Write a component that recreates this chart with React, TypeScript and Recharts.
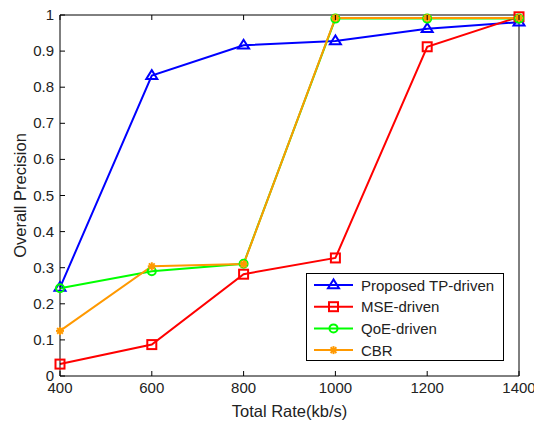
import * as React from "react";
import { LineChart, Line, XAxis, YAxis, Legend } from "recharts";

const rates = [400, 600, 800, 1000, 1200, 1400];
const tpDriven = [0.245, 0.832, 0.916, 0.928, 0.962, 0.98];
const mseDriven = [0.033, 0.087, 0.282, 0.327, 0.912, 0.995];
const qoeDriven = [0.243, 0.29, 0.311, 0.99, 0.99, 0.99];
const cbr = [0.125, 0.304, 0.31, 0.992, 0.992, 0.992];

const xTicks = [400, 600, 800, 1000, 1200, 1400];
const yTicks = [0, 0.1, 0.2, 0.3, 0.4, 0.5, 0.6, 0.7, 0.8, 0.9, 1];

const FONT = "'Liberation Sans', Arial, sans-serif";
const TEXT_COLOR = "#222";

const seriesList = [
  { key: "tp", name: "Proposed TP-driven", color: "#0000ff", marker: "triangle", values: tpDriven },
  { key: "mse", name: "MSE-driven", color: "#ff0000", marker: "square", values: mseDriven },
  { key: "qoe", name: "QoE-driven", color: "#00ff00", marker: "circle", values: qoeDriven },
  { key: "cbr", name: "CBR", color: "#ff9900", marker: "star", values: cbr },
];

const chartData = rates.map((rate, i) => ({
  rate,
  tp: tpDriven[i],
  mse: mseDriven[i],
  qoe: qoeDriven[i],
  cbr: cbr[i],
}));

function Marker({ cx, cy, type, color }: { cx: number; cy: number; type: string; color: string }) {
  if (type === "triangle") {
    const s = 5.5;
    return (
      <polygon
        points={`${cx},${cy - s} ${cx - s},${cy + s * 0.6} ${cx + s},${cy + s * 0.6}`}
        fill="none"
        stroke={color}
        strokeWidth={2}
      />
    );
  }
  if (type === "square") {
    return <rect x={cx - 4.5} y={cy - 4.5} width={9} height={9} fill="none" stroke={color} strokeWidth={2} />;
  }
  if (type === "circle") {
    return <circle cx={cx} cy={cy} r={4} fill="none" stroke={color} strokeWidth={2} />;
  }
  const r = 4;
  const d = r * 0.72;
  return (
    <g stroke={color} strokeWidth={2}>
      <line x1={cx - r} y1={cy} x2={cx + r} y2={cy} />
      <line x1={cx} y1={cy - r} x2={cx} y2={cy + r} />
      <line x1={cx - d} y1={cy - d} x2={cx + d} y2={cy + d} />
      <line x1={cx - d} y1={cy + d} x2={cx + d} y2={cy - d} />
    </g>
  );
}

function makeDot(type: string, color: string) {
  return (props: any) => {
    const { cx, cy, index } = props;
    if (cx == null || cy == null) return <g key={index} />;
    return <Marker key={index} cx={cx} cy={cy} type={type} color={color} />;
  };
}

function formatY(v: number) {
  if (v === 0) return "0";
  if (v === 1) return "1";
  return v.toFixed(1);
}

function LeftTick(props: any) {
  const { x, y, payload } = props;
  return (
    <g>
      <line x1={x} x2={x + 5} y1={y} y2={y} stroke="#000" />
      <text x={x - 6} y={y + 5} textAnchor="end" fontSize={15} fontFamily={FONT} fill={TEXT_COLOR}>
        {formatY(payload.value)}
      </text>
    </g>
  );
}

function BottomTick(props: any) {
  const { x, y, payload } = props;
  return (
    <g>
      <line x1={x} x2={x} y1={y} y2={y - 5} stroke="#000" />
      <text x={x} y={y + 17} textAnchor="middle" fontSize={15} fontFamily={FONT} fill={TEXT_COLOR}>
        {payload.value}
      </text>
    </g>
  );
}

function RightTick(props: any) {
  const { x, y } = props;
  return <line x1={x} x2={x - 5} y1={y} y2={y} stroke="#000" />;
}

function TopTick(props: any) {
  const { x, y } = props;
  return <line x1={x} x2={x} y1={y} y2={y + 5} stroke="#000" />;
}

function LegendBox() {
  const w = 198;
  const h = 88;
  const rowGap = 21.7;
  return (
    <svg width={w} height={h} style={{ display: "block" }}>
      <rect x={0.5} y={0.5} width={w - 1} height={h - 1} fill="#fff" stroke="#000" />
      {seriesList.map((s, i) => {
        const cy = 12 + i * rowGap;
        return (
          <g key={s.key}>
            <line x1={8} x2={47} y1={cy} y2={cy} stroke={s.color} strokeWidth={2} />
            <Marker cx={27.5} cy={cy} type={s.marker} color={s.color} />
            <text x={55} y={cy + 5.5} fontSize={15} fontFamily={FONT} fill={TEXT_COLOR}>
              {s.name}
            </text>
          </g>
        );
      })}
    </svg>
  );
}

export default function App() {
  return (
    <div style={{ position: "absolute", left: 0, top: 0, width: 534, height: 421, background: "#fff" }}>
      <LineChart width={534} height={421} data={chartData} margin={{ top: 0, right: 0, left: 0, bottom: 0 }}>
        <XAxis
          dataKey="rate"
          type="number"
          domain={[400, 1400]}
          ticks={xTicks}
          interval={0}
          height={45}
          tickSize={0}
          tickMargin={0}
          tickLine={false}
          axisLine={{ stroke: "#000" }}
          tick={<BottomTick />}
          label={{
            value: "Total Rate(kb/s)",
            position: "insideBottom",
            offset: 4,
            style: { fontSize: 16.5, fontFamily: FONT, fill: TEXT_COLOR },
          }}
        />
        <XAxis
          xAxisId="top"
          orientation="top"
          dataKey="rate"
          type="number"
          domain={[400, 1400]}
          ticks={xTicks}
          interval={0}
          height={15}
          tickSize={0}
          tickMargin={0}
          tickLine={false}
          axisLine={{ stroke: "#000" }}
          tick={<TopTick />}
        />
        <YAxis
          type="number"
          domain={[0, 1]}
          ticks={yTicks}
          interval={0}
          width={60}
          tickSize={0}
          tickMargin={0}
          tickLine={false}
          axisLine={{ stroke: "#000" }}
          tick={<LeftTick />}
          label={{
            value: "Overall Precision",
            angle: -90,
            position: "insideLeft",
            offset: 20,
            style: { fontSize: 16.5, fontFamily: FONT, fill: TEXT_COLOR, textAnchor: "middle" },
          }}
        />
        <YAxis
          yAxisId="right"
          orientation="right"
          type="number"
          domain={[0, 1]}
          ticks={yTicks}
          interval={0}
          width={15}
          tickSize={0}
          tickMargin={0}
          tickLine={false}
          axisLine={{ stroke: "#000" }}
          tick={<RightTick />}
        />
        {seriesList.map((s) => (
          <Line
            key={s.key}
            dataKey={s.key}
            name={s.name}
            stroke={s.color}
            strokeWidth={2}
            dot={makeDot(s.marker, s.color)}
            activeDot={false}
            isAnimationActive={false}
          />
        ))}
        <Legend
          layout="horizontal"
          verticalAlign="middle"
          align="center"
          wrapperStyle={{ left: 306, top: 273, width: 198, height: 88 }}
          content={() => <LegendBox />}
        />
      </LineChart>
    </div>
  );
}
